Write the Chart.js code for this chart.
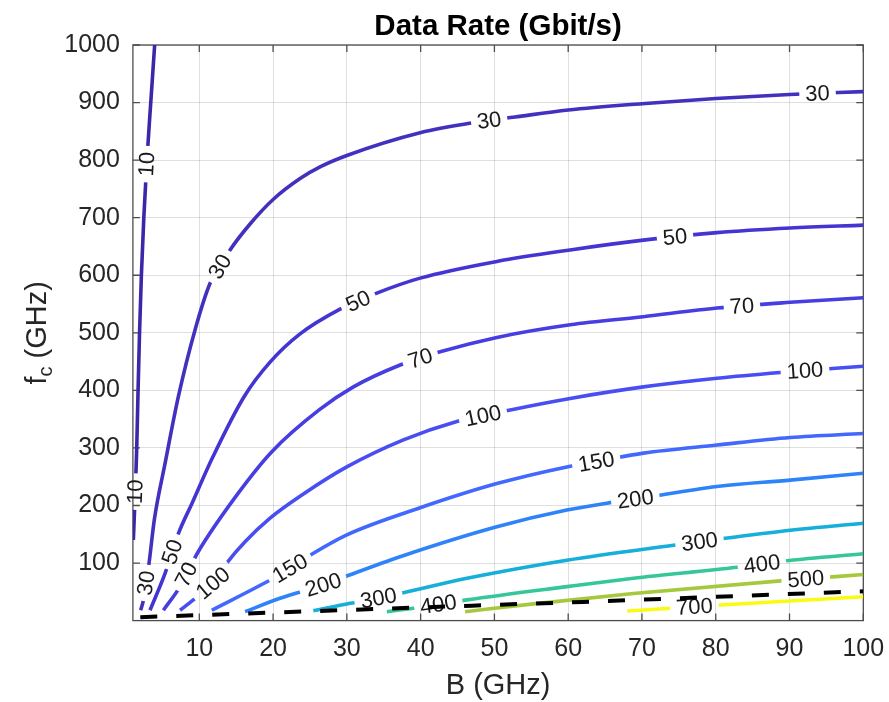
<!DOCTYPE html>
<html>
<head>
<meta charset="utf-8">
<title>Data Rate (Gbit/s)</title>
<script src="https://cdn.jsdelivr.net/npm/chart.js@4.4.1/dist/chart.umd.min.js"></script>
<style>
  html, body { margin: 0; padding: 0; background: #fff; }
  #wrap { width: 889px; height: 702px; }
</style>
</head>
<body>
<div id="wrap"><canvas id="rateChart" width="889" height="702"></canvas></div>
<script>
// axis ticks
const xTicks = [10, 20, 30, 40, 50, 60, 70, 80, 90, 100];
const yTicks = [100, 200, 300, 400, 500, 600, 700, 800, 900, 1000];

// contour levels (Gbit/s)
const levels = [10, 30, 50, 70, 100, 150, 200, 300, 400, 500, 700];

// contour lines as [B (GHz), fc (GHz)]
const line10 = [[1.06, 140], [1.25, 200], [1.42, 260], [1.52, 300], [1.70, 400], [1.90, 500], [2.15, 600], [2.48, 700], [2.90, 800], [3.42, 900], [3.95, 1000]];
const line30 = [[2.05, 18], [2.45, 37], [3.19, 100], [3.9, 175], [5.36, 273], [7.16, 389], [9.42, 505], [11.46, 586], [14.17, 644], [16.88, 689], [20.04, 732], [23.66, 768], [26.5, 789], [30, 808], [39.93, 847.5], [47.6, 866], [52.8, 875], [60, 887], [70, 898], [80, 907], [90, 914], [100, 919]];
const line50 = [[3.32, 18], [5.36, 82], [7.19, 152], [9.02, 204], [11.86, 285], [16.07, 389], [19.59, 449], [23.66, 498], [29.08, 541], [34.06, 569], [39.93, 595], [50.33, 624], [60.27, 644], [70.17, 661], [80.16, 674], [90.1, 682], [100, 687]];
const line70 = [[5.13, 18], [7.39, 59], [9.87, 120], [15.08, 218], [19.8, 293], [26.24, 366], [30.89, 406], [37.22, 444], [42.64, 467], [50.33, 492], [60.27, 514], [70.17, 528], [80.16, 543], [90.1, 553], [100, 561]];
const line100 = [[7.39, 18], [9.19, 36], [11.86, 65], [13.72, 100], [16.2, 137], [19.59, 178], [24.11, 220], [29.99, 267], [37.67, 314], [44.91, 346], [52.14, 366], [60.27, 386], [70.2, 406], [80.16, 421], [88.75, 431], [100, 442]];
const line150 = [[11.69, 18], [19.59, 70.5], [22.3, 91], [25.46, 117], [30, 149], [39.93, 196], [50.33, 238], [59.82, 267], [63.8, 276], [70.2, 291], [80.16, 305], [90.1, 318], [100, 325]];
const line200 = [[16.2, 15.5], [20.95, 38.7], [26.8, 62], [30, 77.5], [37.22, 111], [50.33, 163], [59.82, 192], [65.25, 204], [69.1, 211], [80.16, 233], [90.1, 244], [100, 256]];
const line300 = [[25.46, 17], [30.44, 30], [34.28, 39], [37.22, 47], [46.27, 73.5], [59.82, 105], [74.28, 131], [77.8, 137], [81.29, 143], [90.1, 157], [100, 169]];
const line400 = [[35.42, 15.5], [39.02, 21.4], [42.4, 28], [46.27, 36], [59.82, 59], [68.85, 73.5], [82.86, 92.6], [89.65, 104], [100, 116]];
const line500 = [[46.03, 15.5], [55.3, 29], [68.85, 47], [88.75, 69], [100, 80]];
const line700 = [[68.0, 16.7], [73.39, 21], [80.61, 27], [100, 41.5]];

// dashed black boundary line
const boundary = [[2, 6], [47, 26], [62, 32.5], [100, 51]];

// where the inline labels sit on each contour, [B, fc]
const labels10 = [[2.9, 793], [1.38, 224]];
const labels30 = [[2.97, 65], [12.8, 615], [49.3, 868], [93.8, 915]];
const labels50 = [[6.7, 118], [31.5, 556], [74.5, 664]];
const labels70 = [[8.54, 78], [40.05, 452], [83.55, 546]];
const labels100 = [[11.86, 65], [48.5, 353], [92.1, 433]];
const labels150 = [[22.3, 91], [63.8, 276]];
const labels200 = [[26.8, 62], [69.1, 211]];
const labels300 = [[34.28, 39], [77.8, 137]];
const labels400 = [[42.4, 28], [86.25, 99]];
const labels500 = [[92.2, 73]];
const labels700 = [[77.1, 24]];

const lines = [line10, line30, line50, line70, line100, line150, line200, line300, line400, line500, line700];
const labelSpots = [labels10, labels30, labels50, labels70, labels100, labels150, labels200, labels300, labels400, labels500, labels700];
// parula-like colours for each level
const levelColors = ['#3e26a8', '#4230be', '#4435d2', '#473ee2', '#484ef1', '#4368fd', '#2e83f9', '#15afd9', '#35c79a', '#a6c83d', '#f9fb15'];

const FONT = '"Liberation Sans", Arial, Helvetica, sans-serif';
const LABEL_FONT = '22px ' + FONT;

function toPoints(arr) {
    return arr.map(p => ({ x: p[0], y: p[1] }));
}

// find where each label goes on the drawn line and how it is turned
function labelBoxes(chart, index) {
    const ds = chart.data.datasets[index];
    if (!ds.labelAt) return [];
    const xs = chart.scales.x, ys = chart.scales.y;
    const pts = ds.data.map(p => [xs.getPixelForValue(p.x), ys.getPixelForValue(p.y)]);
    const ctx = chart.ctx;
    ctx.save();
    ctx.font = LABEL_FONT;
    const boxes = ds.labelAt.map(spot => {
        const ax = xs.getPixelForValue(spot[0]), ay = ys.getPixelForValue(spot[1]);
        let best = null;
        for (let i = 0; i < pts.length - 1; i++) {
            const x1 = pts[i][0], y1 = pts[i][1], x2 = pts[i + 1][0], y2 = pts[i + 1][1];
            const dx = x2 - x1, dy = y2 - y1;
            const len2 = dx * dx + dy * dy || 1;
            let t = ((ax - x1) * dx + (ay - y1) * dy) / len2;
            t = Math.max(0, Math.min(1, t));
            const px = x1 + t * dx, py = y1 + t * dy;
            const d = (px - ax) * (px - ax) + (py - ay) * (py - ay);
            if (!best || d < best.d) best = { d: d, x: px, y: py, a: Math.atan2(dy, dx) };
        }
        let a = best.a;
        if (a > Math.PI / 2) a -= Math.PI;
        if (a < -Math.PI / 2) a += Math.PI;
        const text = String(ds.label);
        return { x: best.x, y: best.y, a: a, w: ctx.measureText(text).width + 12, h: 22, text: text };
    });
    ctx.restore();
    return boxes;
}

const contourLabels = {
    id: 'contourLabels',
    beforeDatasetDraw(chart, args) {
        const ctx = chart.ctx;
        const boxes = labelBoxes(chart, args.index);
        args.meta._labelBoxes = boxes;
        ctx.save();
        if (!boxes.length) return;
        // cut a gap out of the line under each label
        ctx.beginPath();
        ctx.rect(0, 0, chart.width, chart.height);
        boxes.forEach(b => {
            const c = Math.cos(b.a), s = Math.sin(b.a);
            const hw = b.w / 2, hh = b.h / 2;
            const corners = [[-hw, -hh], [hw, -hh], [hw, hh], [-hw, hh]].map(q => [b.x + q[0] * c - q[1] * s, b.y + q[0] * s + q[1] * c]);
            ctx.moveTo(corners[0][0], corners[0][1]);
            for (let i = 1; i < 4; i++) ctx.lineTo(corners[i][0], corners[i][1]);
            ctx.closePath();
        });
        ctx.clip('evenodd');
    },
    afterDatasetDraw(chart, args) {
        const ctx = chart.ctx;
        ctx.restore();
        const boxes = args.meta._labelBoxes || [];
        boxes.forEach(b => {
            ctx.save();
            ctx.translate(b.x, b.y);
            ctx.rotate(b.a);
            ctx.font = LABEL_FONT;
            ctx.fillStyle = '#1a1a1a';
            ctx.textAlign = 'center';
            ctx.textBaseline = 'middle';
            ctx.fillText(b.text, 0, 1);
            ctx.restore();
        });
    }
};

// box, inward ticks and the y label with a subscript
const matlabAxes = {
    id: 'matlabAxes',
    beforeDatasetsDraw(chart) {
        const ctx = chart.ctx;
        const area = chart.chartArea;
        const xs = chart.scales.x, ys = chart.scales.y;
        ctx.save();
        ctx.strokeStyle = '#4d4d4d';
        ctx.lineWidth = 1.3;
        ctx.beginPath();
        xTicks.forEach(v => {
            const px = xs.getPixelForValue(v);
            ctx.moveTo(px, area.bottom); ctx.lineTo(px, area.bottom - 7);
            ctx.moveTo(px, area.top); ctx.lineTo(px, area.top + 7);
        });
        yTicks.forEach(v => {
            const py = ys.getPixelForValue(v);
            ctx.moveTo(area.left, py); ctx.lineTo(area.left + 7, py);
            ctx.moveTo(area.right, py); ctx.lineTo(area.right - 7, py);
        });
        ctx.stroke();
        ctx.strokeRect(area.left, area.top, area.right - area.left, area.bottom - area.top);
        ctx.restore();
    },
    afterDraw(chart) {
        const ctx = chart.ctx;
        const area = chart.chartArea;
        const big = '29px ' + FONT, small = '20px ' + FONT;
        ctx.save();
        ctx.translate(36, (area.top + area.bottom) / 2);
        ctx.rotate(-Math.PI / 2);
        ctx.fillStyle = '#262626';
        ctx.textBaseline = 'alphabetic';
        ctx.font = big;
        const wf = ctx.measureText('f').width;
        const wr = ctx.measureText(' (GHz)').width;
        ctx.font = small;
        const wc = ctx.measureText('c').width;
        let x0 = -(wf + wc + wr) / 2;
        ctx.font = big;
        ctx.fillText('f', x0, 10);
        ctx.font = small;
        ctx.fillText('c', x0 + wf, 16);
        ctx.font = big;
        ctx.fillText(' (GHz)', x0 + wf + wc, 10);
        ctx.restore();
    }
};

const datasets = [{
    label: 'boundary',
    data: toPoints(boundary),
    showLine: true,
    borderColor: '#000000',
    borderWidth: 4,
    borderDash: [17, 19],
    pointRadius: 0,
    tension: 0,
    order: 0
}];
levels.forEach((lv, i) => {
    datasets.push({
        label: String(lv),
        data: toPoints(lines[i]),
        labelAt: labelSpots[i],
        showLine: true,
        borderColor: levelColors[i],
        borderWidth: 3.6,
        borderJoinStyle: 'round',
        pointRadius: 0,
        cubicInterpolationMode: 'monotone',
        order: 1
    });
});

const ctx = document.getElementById('rateChart').getContext('2d');
const rateChart = new Chart(ctx, {
    type: 'scatter',
    data: { datasets: datasets },
    options: {
        responsive: false,
        devicePixelRatio: 1,
        animation: false,
        layout: { padding: { left: 0, right: 25.7, top: 0, bottom: 0 } },
        plugins: {
            legend: { display: false },
            tooltip: { enabled: false },
            title: {
                display: true,
                fullSize: false,
                text: 'Data Rate (Gbit/s)',
                color: '#000000',
                font: { family: FONT, size: 29.5, weight: 'bold' },
                padding: { top: 9, bottom: 0.6 }
            }
        },
        scales: {
            x: {
                type: 'linear',
                min: 1,
                max: 100,
                afterBuildTicks: axis => { axis.ticks = xTicks.map(v => ({ value: v })); },
                afterFit: scale => { scale.height = 81.4; scale.paddingLeft = 0; scale.paddingRight = 0; },
                ticks: {
                    autoSkip: false,
                    maxRotation: 0,
                    padding: 14,
                    color: '#262626',
                    font: { family: FONT, size: 25 },
                    callback: v => String(v)
                },
                grid: { color: 'rgba(38,38,38,0.15)', lineWidth: 1, drawTicks: false },
                border: { display: false },
                title: {
                    display: true,
                    text: 'B (GHz)',
                    color: '#262626',
                    font: { family: FONT, size: 29 },
                    padding: { top: 0, bottom: -1 }
                }
            },
            y: {
                type: 'linear',
                min: 0,
                max: 1000,
                afterBuildTicks: axis => { axis.ticks = yTicks.map(v => ({ value: v })); },
                afterFit: scale => { scale.width = 132.9; scale.paddingTop = 0; scale.paddingBottom = 0; },
                ticks: {
                    autoSkip: false,
                    padding: 13,
                    color: '#262626',
                    font: { family: FONT, size: 25 },
                    callback: v => String(v)
                },
                grid: { color: 'rgba(38,38,38,0.15)', lineWidth: 1, drawTicks: false },
                border: { display: false }
            }
        }
    },
    plugins: [contourLabels, matlabAxes]
});
</script>
</body>
</html>
